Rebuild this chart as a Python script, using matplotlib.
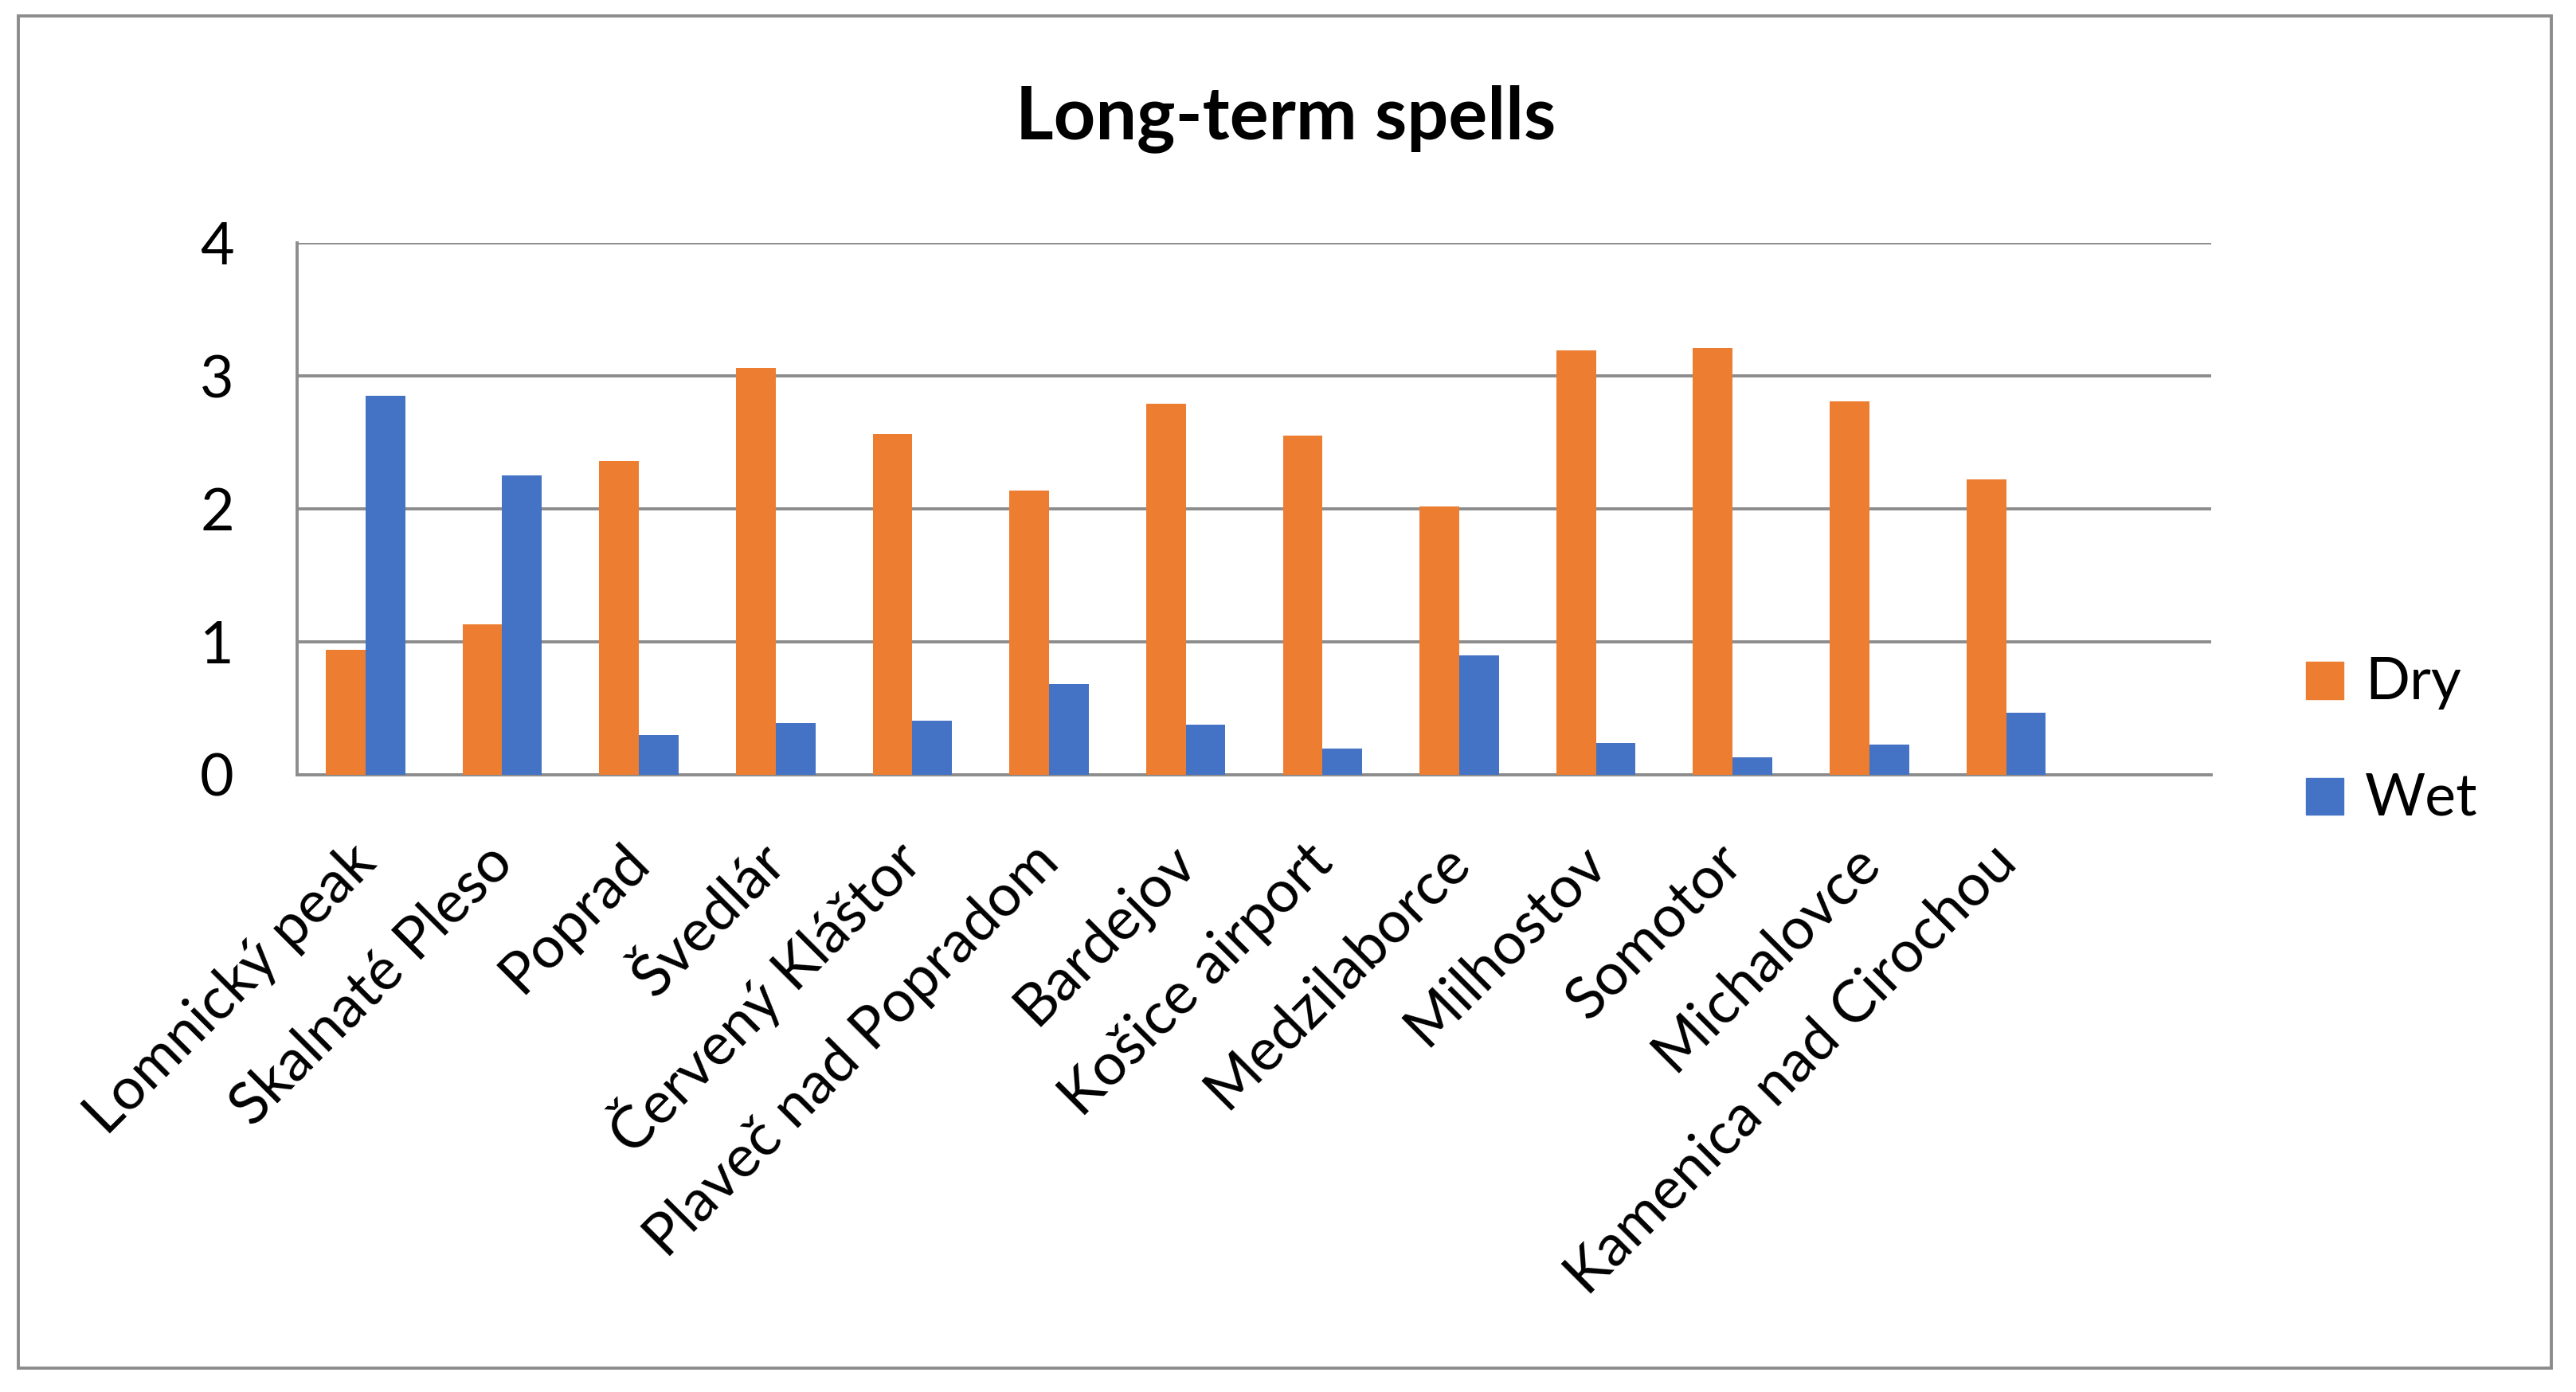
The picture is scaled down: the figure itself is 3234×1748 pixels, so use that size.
import matplotlib
matplotlib.use("Agg")
import matplotlib.pyplot as plt
from matplotlib.patches import Rectangle
from matplotlib.transforms import ScaledTranslation
import numpy as np

plt.rcParams['font.family'] = ['Lato', 'DejaVu Sans']

stations = ["Lomnický peak", "Skalnaté Pleso", "Poprad", "Švedlár", "Červený Kláštor",
            "Plaveč nad Popradom", "Bardejov", "Košice airport", "Medzilaborce",
            "Milhostov", "Somotor", "Michalovce", "Kamenica nad Cirochou"]
dry = [0.94, 1.13, 2.36, 3.06, 2.56, 2.14, 2.79, 2.55, 2.02, 3.19, 3.21, 2.81, 2.22]
wet = [2.85, 2.25, 0.30, 0.39, 0.41, 0.68, 0.38, 0.20, 0.90, 0.24, 0.13, 0.23, 0.47]
series_names = ["Dry", "Wet"]
yticks = [0, 1, 2, 3, 4]
title = "Long-term spells"

ORANGE = "#ED7D31"
BLUE = "#4472C4"
GRID = "#8C8C8C"

W, H, DPI = 3234, 1748, 100
fig = plt.figure(figsize=(W / DPI, H / DPI), dpi=DPI)

def px(x0, y0, x1, y1):
    return [x0 / W, 1 - y1 / H, (x1 - x0) / W, (y1 - y0) / H]

ax = fig.add_axes(px(373, 305, 2776, 973))

n_slots = len(stations) + 1
x = np.arange(len(stations))
bw = 0.29
ax.bar(x - bw / 2, dry, width=bw, color=ORANGE, zorder=3)
ax.bar(x + bw / 2, wet, width=bw, color=BLUE, zorder=3)

ax.set_xlim(-0.5, n_slots - 0.5)
ax.set_ylim(yticks[0], yticks[-1])
ax.set_yticks(yticks)
ax.set_yticklabels([str(t) for t in yticks])
ax.yaxis.grid(True, color=GRID, linewidth=2.8)
ax.set_axisbelow(True)
ax.set_xticks([])
ax.tick_params(axis='y', length=0, pad=57, labelsize=53)
for s in ['top', 'right']:
    ax.spines[s].set_visible(False)
for s in ['left', 'bottom']:
    ax.spines[s].set_color(GRID)
    ax.spines[s].set_linewidth(2.8)

# rotated category labels
off = ScaledTranslation(16 / DPI, -113 / DPI, fig.dpi_scale_trans)
for i, name in enumerate(stations):
    ax.text(i, 0, name, transform=ax.get_xaxis_transform() + off,
            rotation=45, rotation_mode='anchor', ha='right', va='baseline',
            fontsize=53, color='black')

# title
fig.text(1614 / W, 1 - 174 / H, title, ha='center', va='baseline',
         fontsize=66, fontweight='bold')

# legend
for name, col, (y0, y1) in zip(series_names, [ORANGE, BLUE], [(831, 878), (977, 1023)]):
    fig.patches.append(Rectangle((2895 / W, 1 - y1 / H), 47 / W, (y1 - y0) / H,
                                 transform=fig.transFigure, color=col))
    fig.text(2969 / W, 1 - y1 / H, name, ha='left', va='baseline', fontsize=53)

# outer frame
fig.patches.append(Rectangle((23 / W, 1 - 1718 / H), (3203 - 23) / W, (1718 - 20) / H,
                             transform=fig.transFigure, fill=False,
                             edgecolor=GRID, linewidth=2.8))

fig.savefig("out.png", dpi=DPI)
